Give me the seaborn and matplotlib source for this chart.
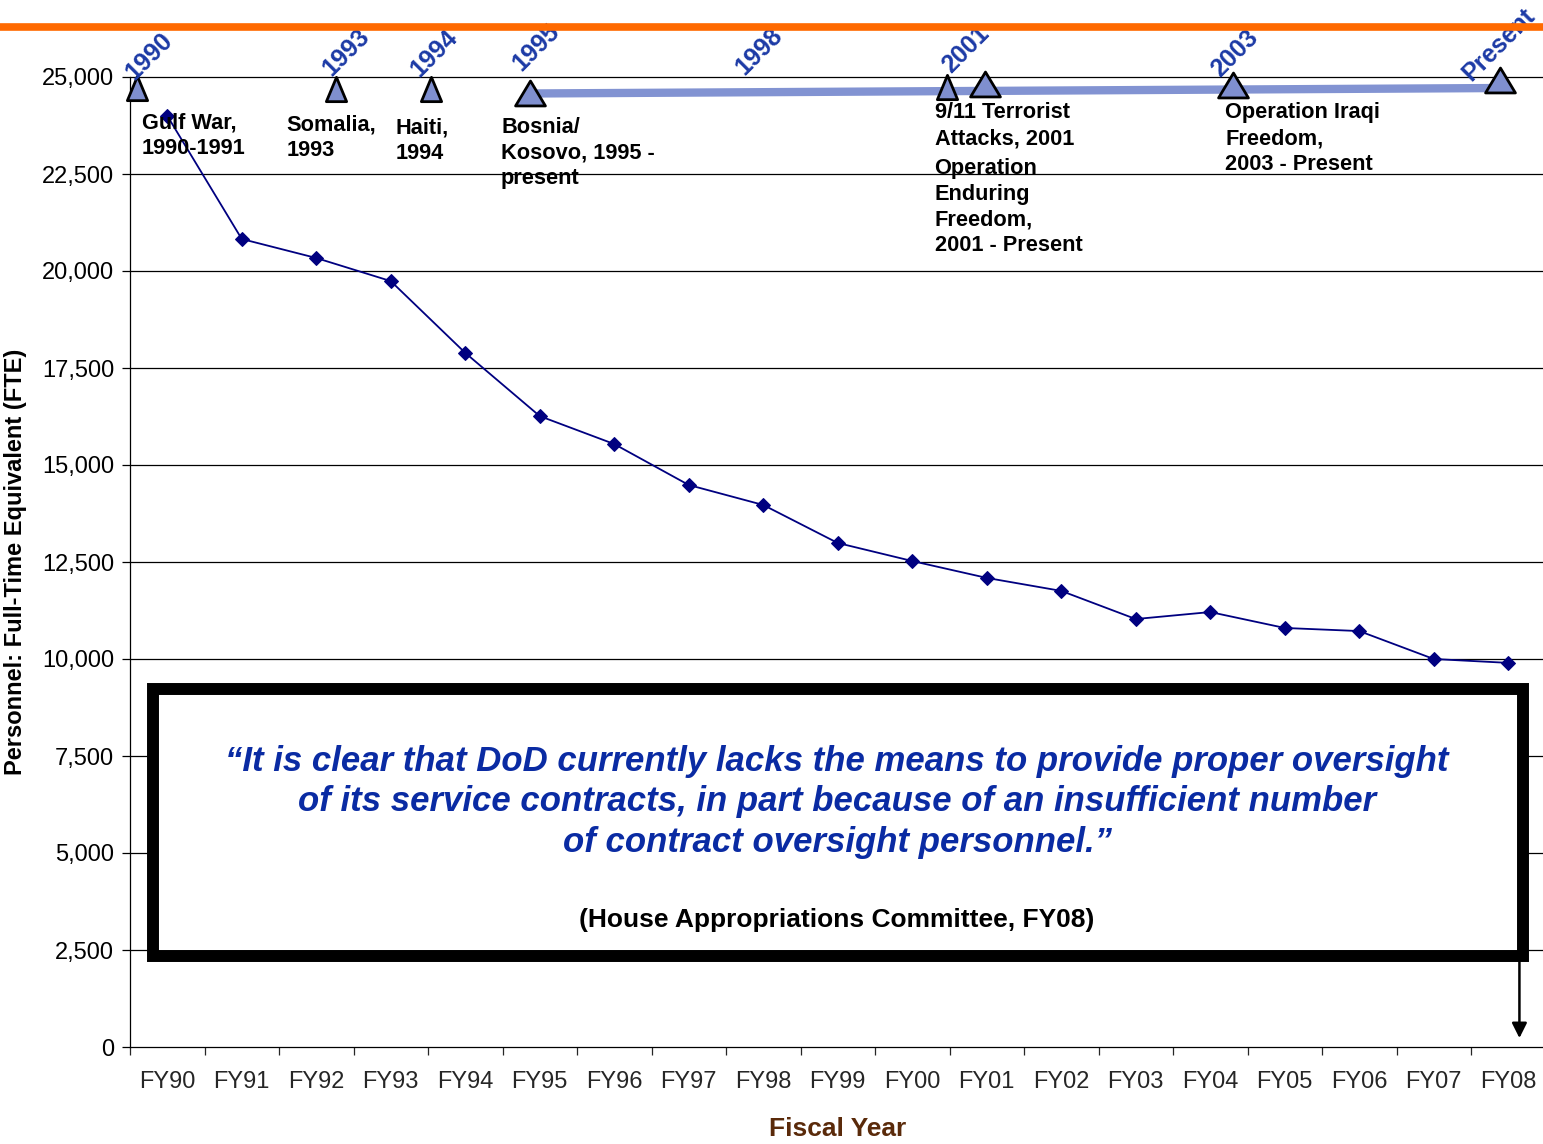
import numpy as np
import pandas as pd
import matplotlib
matplotlib.use("Agg")
import matplotlib.pyplot as plt
import seaborn as sns
from matplotlib.patches import Rectangle
from matplotlib.path import Path
from matplotlib.lines import Line2D

# ---------------- data ----------------
fiscal_years = ["FY90", "FY91", "FY92", "FY93", "FY94", "FY95", "FY96", "FY97", "FY98", "FY99",
                "FY00", "FY01", "FY02", "FY03", "FY04", "FY05", "FY06", "FY07", "FY08"]
personnel = [24000, 20825, 20335, 19740, 17890, 16260, 15540, 14485, 13970, 12990,
             12525, 12090, 11755, 11030, 11210, 10800, 10720, 10000, 9900]

y_ticks = [0, 2500, 5000, 7500, 10000, 12500, 15000, 17500, 20000, 22500, 25000]

# timeline events (x in category units, y in FTE units)
event_x = [-0.40, 2.27, 3.54, 4.87, 10.47, 10.98, 14.30, 17.89]
event_y = [24716, 24690, 24690, 24600, 24740, 24830, 24800, 24920]
event_big = [False, False, False, True, False, True, True, True]

year_labels = ["1990", "1993", "1994", "1995", "1998", "2001", "2003", "Present"]
year_label_x = [-0.44, 2.20, 3.39, 4.75, 7.75, 10.52, 14.13, 17.50]
year_label_y = [24900, 25000, 24980, 25120, 25020, 25070, 24970, 24880]

band_x = [4.87, 17.89]
band_y = [24575, 24716]

event_texts = ["Gulf War,\n1990-1991", "Somalia,\n1993", "Haiti,\n1994",
               "Bosnia/\nKosovo, 1995 -\npresent", "9/11 Terrorist\nAttacks, 2001",
               "Operation\nEnduring\nFreedom,\n2001 - Present",
               "Operation Iraqi\nFreedom,\n2003 - Present"]
event_text_x = [-0.34, 1.60, 3.07, 4.48, 10.30, 10.30, 14.20]
event_text_y = [24090, 24030, 23960, 23980, 24350, 22910, 24350]

quote = ("\u201cIt is clear that DoD currently lacks the means to provide proper oversight\n"
         "of its service contracts, in part because of an insufficient number\n"
         "of contract oversight personnel.\u201d")
citation = "(House Appropriations Committee, FY08)"

df = pd.DataFrame({"pos": np.arange(len(fiscal_years)), "fte": personnel})

# ---------------- style ----------------
sns.set_style("white")
plt.rcParams["font.family"] = ["Liberation Sans", "DejaVu Sans"]

fig = plt.figure(figsize=(15.43, 11.44), dpi=100)
ax = fig.add_axes([130 / 1543, 1 - 1047 / 1144, 1415.5 / 1543, 970 / 1144])

# grid
for v in y_ticks[1:]:
    ax.axhline(v, color="black", lw=0.9, zorder=1, clip_on=False)

sns.lineplot(data=df, x="pos", y="fte", ax=ax, color="#000080", lw=1.3,
             marker="D", markersize=7, markeredgecolor="#000080", zorder=3)

ax.set_xlim(-0.5, 18.5)
ax.set_ylim(0, 25000)

ax.set_yticks(y_ticks)
ax.set_yticklabels([f"{v:,}" for v in y_ticks])
ax.set_xticks(np.arange(-0.5, 19, 1))
ax.set_xticklabels([])
ax.set_xticks(np.arange(len(fiscal_years)), minor=True)
ax.set_xticklabels(fiscal_years, minor=True)
ax.tick_params(axis="y", which="major", left=True, length=5.5, width=0.9,
               pad=6, labelsize=17, colors="black")
ax.tick_params(axis="x", which="major", bottom=True, length=5.5, width=0.9, direction="out")
ax.tick_params(axis="x", which="minor", bottom=True, length=0, pad=17, labelsize=17)

for s in ["top", "right"]:
    ax.spines[s].set_visible(False)
for s in ["left", "bottom"]:
    ax.spines[s].set_color("black")
    ax.spines[s].set_linewidth(0.9)

ax.set_xlabel("Fiscal Year", fontsize=19, fontweight="bold", color="#5A2A0A")
ax.set_ylabel("Personnel: Full-Time Equivalent (FTE)", fontsize=17, fontweight="bold",
              color="black")
ax.xaxis.set_label_coords(0.5, -0.072)
ax.yaxis.set_label_coords(-0.073, 0.5)

# orange header line
fig.add_artist(Line2D([0, 1], [1 - 27 / 1144, 1 - 27 / 1144], color="#FF6A00", lw=5.5,
                      transform=fig.transFigure))

# timeline band
ax.plot(band_x, band_y, color="#8293D2", lw=6, solid_capstyle="butt", zorder=4, clip_on=False)

small_tri = Path([(-10, -12), (10, -12), (0, 12), (-10, -12)],
                 [Path.MOVETO, Path.LINETO, Path.LINETO, Path.CLOSEPOLY])
big_tri = Path([(-15, -12.5), (15, -12.5), (0, 12.5), (-15, -12.5)],
               [Path.MOVETO, Path.LINETO, Path.LINETO, Path.CLOSEPOLY])
for x, y, big in zip(event_x, event_y, event_big):
    ax.plot([x], [y], marker=big_tri if big else small_tri,
            markersize=21.5 if big else 17.5, markerfacecolor="#7F8FCF",
            markeredgecolor="black", markeredgewidth=2.0, zorder=5, clip_on=False)

for lab, x, y in zip(year_labels, year_label_x, year_label_y):
    ax.text(x, y, lab, rotation=45, rotation_mode="anchor", ha="left", va="baseline",
            fontsize=18, fontweight="bold", color="#1C3AA6", zorder=6, clip_on=False)

for t, x, y in zip(event_texts, event_text_x, event_text_y):
    ax.text(x, y, t, ha="left", va="top", fontsize=15.7, fontweight="bold",
            color="black", linespacing=1.3, zorder=6, clip_on=False)

# quote box
box = Rectangle((-0.19, 2345), 18.39, 9227 - 2345, facecolor="white", edgecolor="black",
                lw=8.6, joinstyle="miter", zorder=7)
ax.add_patch(box)
ax.text(8.99, 6315, quote, ha="center", va="center", fontsize=25, fontweight="bold",
        fontstyle="italic", color="#0A2BA3", linespacing=1.3, zorder=8)
ax.text(8.99, 3273, citation, ha="center", va="center", fontsize=19, fontweight="bold",
        color="black", zorder=8)

ax.annotate("", xy=(18.15, 230), xytext=(18.15, 2190),
            arrowprops=dict(arrowstyle="-|>,head_width=0.45,head_length=0.9",
                            color="black", lw=1.8, shrinkA=0, shrinkB=0), zorder=8)

fig.savefig("out.png", dpi=100)
